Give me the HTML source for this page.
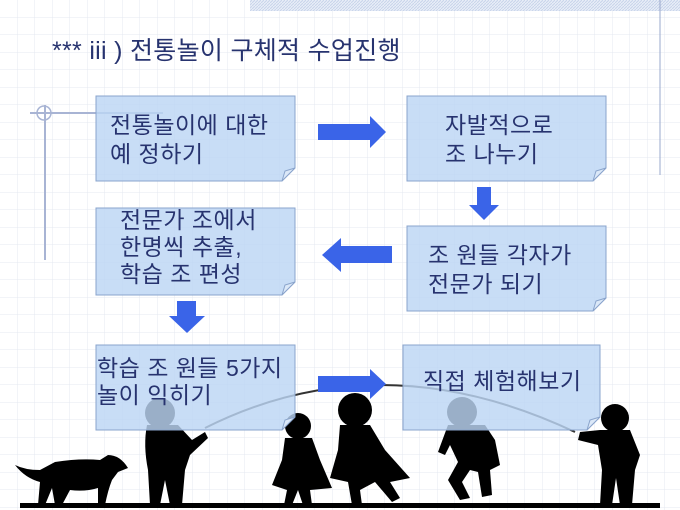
<!DOCTYPE html>
<html><head><meta charset="utf-8"><style>
html,body{margin:0;padding:0}
body{width:680px;height:510px;overflow:hidden;background:#fff;position:relative;font-family:"Liberation Sans","Noto Sans CJK KR",sans-serif}
svg{position:absolute;left:0;top:0}
.t{position:absolute;color:#27336f;font-size:23px;line-height:28px;white-space:nowrap;letter-spacing:0.5px}
</style></head><body>
<svg width="680" height="510" viewBox="0 0 680 510">
<defs>
<pattern id="g" width="17.5" height="17.5" patternUnits="userSpaceOnUse">
<path d="M17.5 0V17.5M0 17.5H17.5" stroke="#e4e8f0" stroke-width="1" fill="none"/>
</pattern>
<pattern id="h" width="3" height="3" patternUnits="userSpaceOnUse">
<rect width="3" height="3" fill="#e8eef8"/><path d="M0 3L3 0" stroke="#c8d4ea" stroke-width="1"/>
</pattern>
</defs>
<rect width="680" height="510" fill="url(#g)"/>
<rect x="250" y="0" width="430" height="11" fill="url(#h)"/>
<line x1="660" y1="0" x2="660" y2="175" stroke="#9aa8cc" stroke-width="1"/>
<line x1="30" y1="113" x2="163" y2="113" stroke="#a8b4d4" stroke-width="2"/>
<line x1="45" y1="105" x2="45" y2="260" stroke="#a8b4d4" stroke-width="2"/>
<circle cx="44" cy="113" r="7" fill="none" stroke="#a8b4d4" stroke-width="1.5"/>

<g fill="#000">
<rect x="20" y="503" width="640" height="5"/>
<path d="M15 465 Q25 470 40 470 L55 462 Q80 458 100 460 L108 455 Q120 455 128 468 L118 472 L112 480 Q108 490 105 505 L98 505 L98 488 Q85 492 70 490 L62 505 L55 505 L52 488 L45 505 L38 505 L40 482 Q25 478 15 465Z"/>
<circle cx="160" cy="413" r="15"/>
<path d="M147 425 L178 425 L192 440 L205 432 L208 438 L190 455 L185 470 L182 505 L170 505 L165 480 L160 505 L150 505 L148 470 Q143 445 147 425Z"/>
<circle cx="298" cy="426" r="13"/>
<path d="M285 438 L312 438 L320 460 L332 488 L310 490 L312 505 L303 505 L298 490 L292 505 L284 505 L287 490 L272 485 L282 460Z"/>
<circle cx="355" cy="410" r="17"/>
<path d="M340 425 L370 425 L385 450 L410 478 L390 482 L400 498 L392 502 L375 482 L360 490 L362 505 L352 505 L348 482 L330 478 L338 450Z"/>
<circle cx="462" cy="412" r="15"/>
<path d="M448 425 L485 425 L495 440 L500 465 L490 470 L492 495 L482 497 L478 472 L470 470 L462 482 L470 498 L460 500 L448 480 L458 462 L450 445 L445 455 L438 452 Z"/>
<circle cx="615" cy="418" r="14"/>
<path d="M600 430 L630 430 L640 455 L635 470 L632 505 L620 505 L616 478 L612 505 L600 505 L602 470 L598 445 L578 440 L580 432Z"/>
</g>
<path d="M205 428 Q380 340 575 432" stroke="#333" stroke-width="2" fill="none"/>

<g fill="#bcd6f4" fill-opacity="0.82" stroke="#8aa4cc" stroke-width="1">
<path d="M96 96H295V168L282 181H96Z"/>
<path d="M407 96H606V168L593 181H407Z"/>
<path d="M96 208H295V282L282 295H96Z"/>
<path d="M407 226H606V298L593 311H407Z"/>
<path d="M96 345H295V417L282 430H96Z"/>
<path d="M403 345H600V417L587 430H403Z"/>
</g>
<g fill="#dbe8f8" stroke="#8aa4cc" stroke-width="1">
<path d="M295 168L282 181L285 171Z"/><path d="M606 168L593 181L596 171Z"/>
<path d="M295 282L282 295L285 285Z"/><path d="M606 298L593 311L596 301Z"/>
<path d="M295 417L282 430L285 420Z"/><path d="M600 417L587 430L590 420Z"/>
</g>
<g fill="#3a64e8">
<path d="M318 124H370V116L386 132L370 148V140H318Z"/>
<path d="M477 187H491V205H499L484 220L469 205H477Z"/>
<path d="M392 246V263H341V272L322 255L341 238V246Z"/>
<path d="M177 301H196V316H205L187 333L169 316H177Z"/>
<path d="M318 376H370V369L386 384L370 399V392H318Z"/>
</g>
</svg>
<div class="t" style="left:52px;top:36px;font-size:25px;line-height:30px;letter-spacing:0.3px">*** iii ) 전통놀이 구체적 수업진행</div>
<div class="t" style="left:110px;top:111px;line-height:29px">전통놀이에 대한<br>예 정하기</div>
<div class="t" style="left:445px;top:111px;line-height:29px">자발적으로<br>조 나누기</div>
<div class="t" style="left:120px;top:207px;line-height:27px">전문가 조에서<br>한명씩 추출,<br>학습 조 편성</div>
<div class="t" style="left:428px;top:241px;line-height:29px">조 원들 각자가<br>전문가 되기</div>
<div class="t" style="left:97px;top:355px;line-height:27px">학습 조 원들 5가지<br>놀이 익히기</div>
<div class="t" style="left:423px;top:367px">직접 체험해보기</div>
</body></html>
